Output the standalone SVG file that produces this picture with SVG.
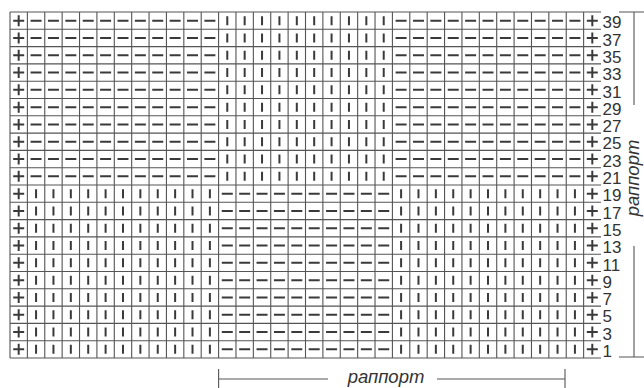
<svg xmlns="http://www.w3.org/2000/svg" xmlns:xlink="http://www.w3.org/1999/xlink" width="644" height="388" viewBox="0 0 644 388">
<style>
.grid{fill:none;stroke:#555;stroke-width:1.1}
.sym{fill:none;stroke:#3a3a3a;stroke-width:2}
.num{font-family:"Liberation Sans",Arial,sans-serif;font-size:17px;fill:#333}
.rap{font-family:"Liberation Sans",Arial,sans-serif;font-size:18.5px;font-style:italic;fill:#333}
.br{fill:none;stroke:#555;stroke-width:1.1}
</style>
<defs>
<path id="top" class="sym" d="M13.19 0h11M18.69-5.5v11M586.81 0h11M592.31-5.5v11M30.57 0h11m6.382 0h11m6.382 0h11m6.382 0h11m6.382 0h11m6.382 0h11m6.382 0h11m6.382 0h11m6.382 0h11m6.382 0h11m6.382 0h11M227.28-4.5v9m17.382-9v9m17.382-9v9m17.382-9v9m17.382-9v9m17.382-9v9m17.382-9v9m17.382-9v9m17.382-9v9m17.382-9v9M395.6 0h11m6.382 0h11m6.382 0h11m6.382 0h11m6.382 0h11m6.382 0h11m6.382 0h11m6.382 0h11m6.382 0h11m6.382 0h11m6.382 0h11"/>
<path id="bot" class="sym" d="M13.19 0h11M18.69-5.5v11M586.81 0h11M592.31-5.5v11M36.07-4.5v9m17.382-9v9m17.382-9v9m17.382-9v9m17.382-9v9m17.382-9v9m17.382-9v9m17.382-9v9m17.382-9v9m17.382-9v9m17.382-9v9M221.78 0h11m6.382 0h11m6.382 0h11m6.382 0h11m6.382 0h11m6.382 0h11m6.382 0h11m6.382 0h11m6.382 0h11m6.382 0h11M401.1-4.5v9m17.382-9v9m17.382-9v9m17.382-9v9m17.382-9v9m17.382-9v9m17.382-9v9m17.382-9v9m17.382-9v9m17.382-9v9m17.382-9v9"/>
</defs>
<g id="chart-grid">
<path class="grid" d="M10 12V358m17.3824-346v346m17.3824-346v346m17.3824-346v346m17.3824-346v346m17.3824-346v346m17.3824-346v346m17.3824-346v346m17.3824-346v346m17.3824-346v346m17.3824-346v346m17.3824-346v346m17.3824-346v346m17.3824-346v346m17.3824-346v346m17.3824-346v346m17.3824-346v346m17.3824-346v346m17.3824-346v346m17.3824-346v346m17.3824-346v346m17.3824-346v346m17.3824-346v346m17.3824-346v346m17.3824-346v346m17.3824-346v346m17.3824-346v346m17.3824-346v346m17.3824-346v346m17.3824-346v346m17.3824-346v346m17.3824-346v346m17.3824-346v346m17.3824-346v346M10 12H601m-591 17.3h591m-591 17.3h591m-591 17.3h591m-591 17.3h591m-591 17.3h591m-591 17.3h591m-591 17.3h591m-591 17.3h591m-591 17.3h591m-591 17.3h591m-591 17.3h591m-591 17.3h591m-591 17.3h591m-591 17.3h591m-591 17.3h591m-591 17.3h591m-591 17.3h591m-591 17.3h591m-591 17.3h591m-591 17.3h591"/>
</g>
<g id="stitches">
<use xlink:href="#top" href="#top" y="20.65"/>
<use xlink:href="#top" href="#top" y="37.95"/>
<use xlink:href="#top" href="#top" y="55.25"/>
<use xlink:href="#top" href="#top" y="72.55"/>
<use xlink:href="#top" href="#top" y="89.85"/>
<use xlink:href="#top" href="#top" y="107.15"/>
<use xlink:href="#top" href="#top" y="124.45"/>
<use xlink:href="#top" href="#top" y="141.75"/>
<use xlink:href="#top" href="#top" y="159.05"/>
<use xlink:href="#top" href="#top" y="176.35"/>
<use xlink:href="#bot" href="#bot" y="193.65"/>
<use xlink:href="#bot" href="#bot" y="210.95"/>
<use xlink:href="#bot" href="#bot" y="228.25"/>
<use xlink:href="#bot" href="#bot" y="245.55"/>
<use xlink:href="#bot" href="#bot" y="262.85"/>
<use xlink:href="#bot" href="#bot" y="280.15"/>
<use xlink:href="#bot" href="#bot" y="297.45"/>
<use xlink:href="#bot" href="#bot" y="314.75"/>
<use xlink:href="#bot" href="#bot" y="332.05"/>
<use xlink:href="#bot" href="#bot" y="349.35"/>
</g>
<g id="row-numbers" class="num">
<text x="602.5" y="28.3">39</text>
<text x="602.5" y="45.6">37</text>
<text x="602.5" y="62.9">35</text>
<text x="602.5" y="80.2">33</text>
<text x="602.5" y="97.5">31</text>
<text x="602.5" y="114.8">29</text>
<text x="602.5" y="132.1">27</text>
<text x="602.5" y="149.4">25</text>
<text x="602.5" y="166.7">23</text>
<text x="602.5" y="184">21</text>
<text x="602.5" y="201.3">19</text>
<text x="602.5" y="218.6">17</text>
<text x="602.5" y="235.9">15</text>
<text x="602.5" y="253.2">13</text>
<text x="602.5" y="270.5">11</text>
<text x="602.5" y="287.8">9</text>
<text x="602.5" y="305.1">7</text>
<text x="602.5" y="322.4">5</text>
<text x="602.5" y="339.7">3</text>
<text x="602.5" y="357">1</text>
</g>
<g id="rapport-horizontal">
<path class="br" d="M218.6 369V388M218.6 379H328M437 379H565M565 369V388"/>
<text class="rap" x="386" y="382.7" text-anchor="middle">раппорт</text>
</g>
<g id="rapport-vertical">
<path class="br" d="M619 12H644M634 12V105M634 246V357M619 357H644"/>
<text class="rap" transform="translate(638.5 178) rotate(-90)" text-anchor="middle">раппорт</text>
</g>
</svg>
